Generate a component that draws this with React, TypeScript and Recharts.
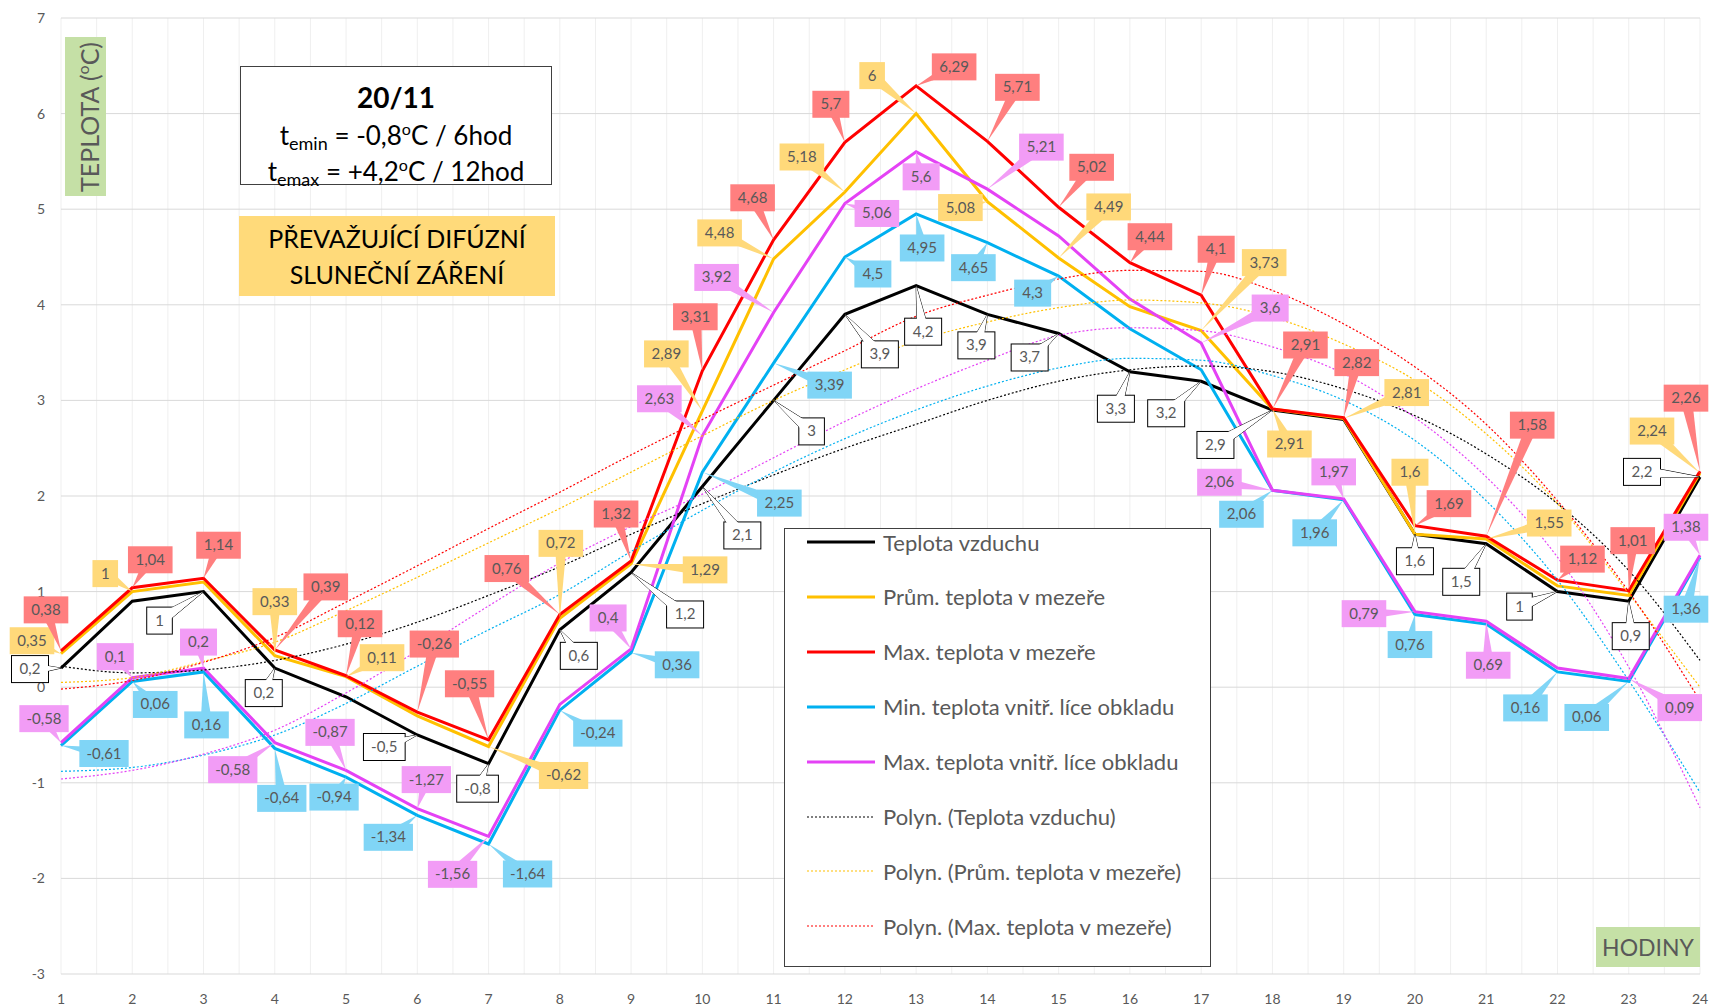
import React from "react";
import { LineChart, Line, XAxis, YAxis, CartesianGrid, LabelList } from "recharts";

const hours = [1, 2, 3, 4, 5, 6, 7, 8, 9, 10, 11, 12, 13, 14, 15, 16, 17, 18, 19, 20, 21, 22, 23, 24];
const yTicks = [-3, -2, -1, 0, 1, 2, 3, 4, 5, 6, 7];

// measured series
const airTemp = [0.2, 0.9, 1, 0.2, -0.1, -0.5, -0.8, 0.6, 1.2, 2.1, 3, 3.9, 4.2, 3.9, 3.7, 3.3, 3.2, 2.9, 2.8, 1.6, 1.5, 1, 0.9, 2.2];
const gapAvg = [0.35, 1, 1.1, 0.33, 0.11, -0.3, -0.62, 0.72, 1.29, 2.89, 4.48, 5.18, 6, 5.08, 4.49, 3.98, 3.73, 2.91, 2.81, 1.6, 1.55, 1.06, 0.96, 2.24];
const gapMax = [0.38, 1.04, 1.14, 0.39, 0.12, -0.26, -0.55, 0.76, 1.32, 3.31, 4.68, 5.7, 6.29, 5.71, 5.02, 4.44, 4.1, 2.91, 2.82, 1.69, 1.58, 1.12, 1.01, 2.26];
const innerMin = [-0.61, 0.06, 0.16, -0.64, -0.94, -1.34, -1.64, -0.24, 0.36, 2.25, 3.39, 4.5, 4.95, 4.65, 4.3, 3.75, 3.32, 2.06, 1.96, 0.76, 0.66, 0.16, 0.06, 1.36];
const innerMax = [-0.58, 0.1, 0.2, -0.58, -0.87, -1.27, -1.56, -0.18, 0.4, 2.63, 3.92, 5.06, 5.6, 5.21, 4.72, 4.06, 3.6, 2.06, 1.97, 0.79, 0.69, 0.2, 0.09, 1.38];

// polynomial trendlines
const trendAir = [0.22, 0.15, 0.18, 0.28, 0.45, 0.68, 0.96, 1.26, 1.6, 1.92, 2.22, 2.5, 2.75, 3.0, 3.2, 3.32, 3.36, 3.3, 3.12, 2.84, 2.44, 1.92, 1.22, 0.28];
const trendAvg = [0.05, 0.1, 0.27, 0.47, 0.8, 1.15, 1.51, 1.87, 2.25, 2.63, 3.0, 3.32, 3.62, 3.82, 3.97, 4.05, 4.02, 3.87, 3.59, 3.21, 2.65, 1.92, 0.98, 0.0];
const trendMax = [-0.02, 0.07, 0.26, 0.52, 0.89, 1.27, 1.66, 2.04, 2.43, 2.8, 3.16, 3.52, 3.88, 4.1, 4.27, 4.36, 4.35, 4.15, 3.8, 3.35, 2.75, 1.95, 1.0, -0.14];
const trendInnerMin = [-0.88, -0.84, -0.71, -0.5, -0.17, 0.22, 0.6, 0.97, 1.42, 1.85, 2.25, 2.6, 2.9, 3.15, 3.34, 3.44, 3.42, 3.26, 3.0, 2.58, 1.95, 1.12, 0.07, -1.1];
const trendInnerMax = [-0.96, -0.87, -0.7, -0.45, -0.06, 0.38, 0.85, 1.3, 1.68, 2.02, 2.4, 2.78, 3.12, 3.42, 3.68, 3.76, 3.73, 3.56, 3.28, 2.82, 2.2, 1.36, 0.21, -1.26];

const legendNames = [
  "Teplota vzduchu",
  "Prům. teplota v mezeře",
  "Max. teplota v mezeře",
  "Min. teplota vnitř. líce obkladu",
  "Max. teplota vnitř. líce obkladu",
  "Polyn. (Teplota vzduchu)",
  "Polyn. (Prům. teplota v mezeře)",
  "Polyn. (Max. teplota v mezeře)",
];

// callout placement (label centre relative to its point, px); null = no label
type Off = [number, number] | null;
const offAir: Off[] = [[-31, 1], null, [-44, 29], [-11, 25], null, [-33, 12], [-11, 25], [19, 26], [54, 42], [40, 49], [38, 31], [35, 40], [7, 46], [-11, 31], [-29, 24], [-14, 37], [-35, 32], [-57, 35], null, [0, 27], [-25, 38], [-38, 15], [2, 35], [-58, -5]];
const offAvg: Off[] = [[-29, -13], [-27, -18], null, [0, -54], [36, -19], null, [75, 29], [1, -75], [74, 6], [-36, -57], [-54, -26], [-43, -35], [-44, -38], [-27, 6], [50, -51], null, [63, -68], [17, 35], [63, -26], [-5, -62], [63, -16], null, null, [-48, -42]];
const offMax: Off[] = [[-15, -41], [18, -28], [15, -33], [51, -63], [14, -52], [17, -68], [-19, -56], [-53, -46], [-15, -47], [-7, -54], [-21, -42], [-14, -38], [38, -19], [30, -54], [33, -40], [20, -26], [15, -46], [33, -64], [13, -55], [34, -22], [46, -111], [25, -21], [4, -50], [-14, -73]];
const offInMin: Off[] = [[43, 8], [23, 23], [3, 53], [7, 50], [-12, 20], [-29, 22], [39, 30], [38, 23], [46, 12], [77, 31], [56, 22], [28, 17], [6, 34], [-14, 25], [-26, 17], null, null, [-31, 24], [-29, 33], [-5, 30], null, [-32, 36], [-42, 36], [-14, 52]];
const offInMax: Off[] = [[-17, -24], [-17, -21], [-5, -26], [-42, 27], [-16, -38], [9, -29], [-36, 38], null, [-23, -31], [-43, -37], [-57, -35], [32, 10], [5, 25], [54, -42], null, null, [69, -35], [-53, -8], [-10, -27], [-51, 2], [2, 44], null, [51, 29], [-14, -28]];

const data = hours.map((h, i) => ({
  hour: h,
  air: airTemp[i],
  avg: gapAvg[i],
  max: gapMax[i],
  inMin: innerMin[i],
  inMax: innerMax[i],
  tAir: trendAir[i],
  tAvg: trendAvg[i],
  tMax: trendMax[i],
  tInMin: trendInnerMin[i],
  tInMax: trendInnerMax[i],
}));

const FONT = "Lato, 'Open Sans', sans-serif";
const GRAY = "#595959";
const halfSteps: number[] = [];
for (let v = 1.5; v < 24; v += 1) halfSteps.push(v);

const fmt = (v: number) => String(v).replace(".", ",");
const textW = (s: string) => {
  let w = 0;
  for (const c of s) w += c === "," ? 3.8 : c === "-" ? 4.7 : 7.6;
  return w;
};

function callout(offsets: Off[], fill: string, outline: boolean) {
  return (props: any) => {
    const { x, y, value, index } = props;
    const off = offsets[index];
    if (!off || value == null) return null;
    const text = fmt(value);
    const w = textW(text) + 18;
    const h = 27;
    const cx = x + off[0];
    const cy = y + off[1];
    const dx = x - cx;
    const dy = y - cy;
    const len = Math.hypot(dx, dy) || 1;
    const nx = (-dy / len) * 6;
    const ny = (dx / len) * 6;
    const tri = `${x},${y} ${cx + nx},${cy + ny} ${cx - nx},${cy - ny}`;
    const stroke = outline ? "#000" : "none";
    return (
      <g>
        <polygon points={tri} fill={fill} stroke={stroke} strokeWidth={1} />
        <rect x={cx - w / 2} y={cy - h / 2} width={w} height={h} fill={fill} stroke={stroke} strokeWidth={1} />
        {outline && <polygon points={tri} fill={fill} stroke="none" />}
        <text x={cx} y={cy + 5} textAnchor="middle" fontSize={15} fontFamily={FONT} fill={GRAY}>
          {text}
        </text>
      </g>
    );
  };
}

const lineSeries = [
  { key: "air", color: "#000000" },
  { key: "avg", color: "#ffc000" },
  { key: "max", color: "#ff0000" },
  { key: "inMin", color: "#00b0f0" },
  { key: "inMax", color: "#e442f5" },
];
const trendSeries = [
  { key: "tAir", color: "#000000" },
  { key: "tAvg", color: "#ffc000" },
  { key: "tMax", color: "#ff0000" },
  { key: "tInMin", color: "#00b0f0" },
  { key: "tInMax", color: "#e442f5" },
];
const labelSeries = [
  { key: "air", off: offAir, fill: "#ffffff", outline: true },
  { key: "avg", off: offAvg, fill: "#ffd97a", outline: false },
  { key: "max", off: offMax, fill: "#ff7f7f", outline: false },
  { key: "inMin", off: offInMin, fill: "#80d5f6", outline: false },
  { key: "inMax", off: offInMax, fill: "#f29cf6", outline: false },
];

const subStyle = { fontSize: 18, verticalAlign: -5 };
const supStyle = { fontSize: 16, verticalAlign: 10 };

export default function App() {
  return (
    <div style={{ position: "absolute", left: 0, top: 0, width: 1709, height: 1007, background: "#fff", fontFamily: FONT }}>
      <LineChart width={1709} height={1007} data={data} margin={{ top: 18, right: 9, bottom: 8, left: 21 }}>
        <CartesianGrid horizontal={false} verticalValues={halfSteps.concat(hours)} stroke="#efefef" strokeWidth={1} />
        <CartesianGrid vertical={false} stroke="#d9d9d9" strokeWidth={1} />
        <XAxis
          dataKey="hour"
          type="number"
          domain={[1, 24]}
          ticks={hours}
          axisLine={false}
          tickLine={false}
          height={25}
          tickMargin={14}
          tick={{ fontSize: 14, fill: GRAY, fontFamily: FONT }}
          interval={0}
        />
        <YAxis
          type="number"
          domain={[-3, 7]}
          ticks={yTicks}
          width={40}
          axisLine={false}
          tickLine={false}
          tickMargin={10}
          tick={{ fontSize: 14, fill: GRAY, fontFamily: FONT }}
          interval={0}
        />
        {lineSeries.map((s) => (
          <Line key={s.key} dataKey={s.key} type="linear" stroke={s.color} strokeWidth={3} dot={false} activeDot={false} isAnimationActive={false} />
        ))}
        {trendSeries.map((s) => (
          <Line key={s.key} dataKey={s.key} type="monotone" stroke={s.color} strokeWidth={1.2} strokeDasharray="2 2" dot={false} activeDot={false} isAnimationActive={false} />
        ))}
        {labelSeries.map((s) => (
          <Line key={"lbl-" + s.key} dataKey={s.key} stroke="none" dot={false} activeDot={false} isAnimationActive={false}>
            <LabelList dataKey={s.key} content={callout(s.off, s.fill, s.outline)} />
          </Line>
        ))}
      </LineChart>

      {/* date / extremes box */}
      <div style={{ position: "absolute", left: 240, top: 66, width: 310, height: 117, border: "1px solid #404040", background: "#fff", color: "#000" }}>
        <div style={{ position: "absolute", left: 0, right: 0, top: 12, textAlign: "center", fontWeight: "bold", fontSize: 28, lineHeight: "36px" }}>20/11</div>
        <div style={{ position: "absolute", left: 0, right: 0, top: 44, textAlign: "center", fontSize: 26, lineHeight: "36px" }}>
          t<sub style={subStyle}>emin</sub> = -0,8<sup style={supStyle}>o</sup>C / 6hod
        </div>
        <div style={{ position: "absolute", left: 0, right: 0, top: 80, textAlign: "center", fontSize: 26, lineHeight: "36px" }}>
          t<sub style={subStyle}>emax</sub> = +4,2<sup style={supStyle}>o</sup>C / 12hod
        </div>
      </div>

      {/* radiation note */}
      <div style={{ position: "absolute", left: 239, top: 216, width: 316, height: 80, background: "#ffda7a", textAlign: "center", color: "#000", fontSize: 25, lineHeight: "36px", paddingTop: 4, boxSizing: "border-box" }}>
        PŘEVAŽUJÍCÍ DIFÚZNÍ
        <br />
        SLUNEČNÍ ZÁŘENÍ
      </div>

      {/* axis titles */}
      <div style={{ position: "absolute", left: 65, top: 37, width: 41, height: 159, background: "#c5e0a6" }}>
        <div style={{ position: "absolute", left: 21, top: 80, transform: "translate(-50%,-50%) rotate(-90deg)", whiteSpace: "nowrap", fontSize: 25, color: GRAY, lineHeight: "32px" }}>
          TEPLOTA (<sup style={{ fontSize: 16, verticalAlign: 10 }}>o</sup>C)
        </div>
      </div>
      <div style={{ position: "absolute", left: 1596, top: 927, width: 104, height: 40, background: "#c5e0a6", color: GRAY, fontSize: 23, lineHeight: "40px", textAlign: "center" }}>
        HODINY
      </div>

      {/* legend */}
      <div style={{ position: "absolute", left: 784, top: 528, width: 425, height: 437, border: "1px solid #404040", background: "#fff" }}>
        {legendNames.map((name, i) => {
          const dashed = i >= 5;
          const color = dashed ? trendSeries[i - 5].color : lineSeries[i].color;
          return (
            <div key={name} style={{ position: "absolute", left: 0, top: 13 + i * 54.9 - 14, height: 28, display: "flex", alignItems: "center" }}>
              <svg width={100} height={28} style={{ marginLeft: 22 }}>
                <line x1={0} x2={68} y1={14} y2={14} stroke={color} strokeWidth={dashed ? 1.2 : 3} strokeDasharray={dashed ? "2 2" : undefined} />
              </svg>
              <span style={{ position: "absolute", left: 98, whiteSpace: "nowrap", fontSize: 22, color: GRAY }}>{name}</span>
            </div>
          );
        })}
      </div>
    </div>
  );
}
